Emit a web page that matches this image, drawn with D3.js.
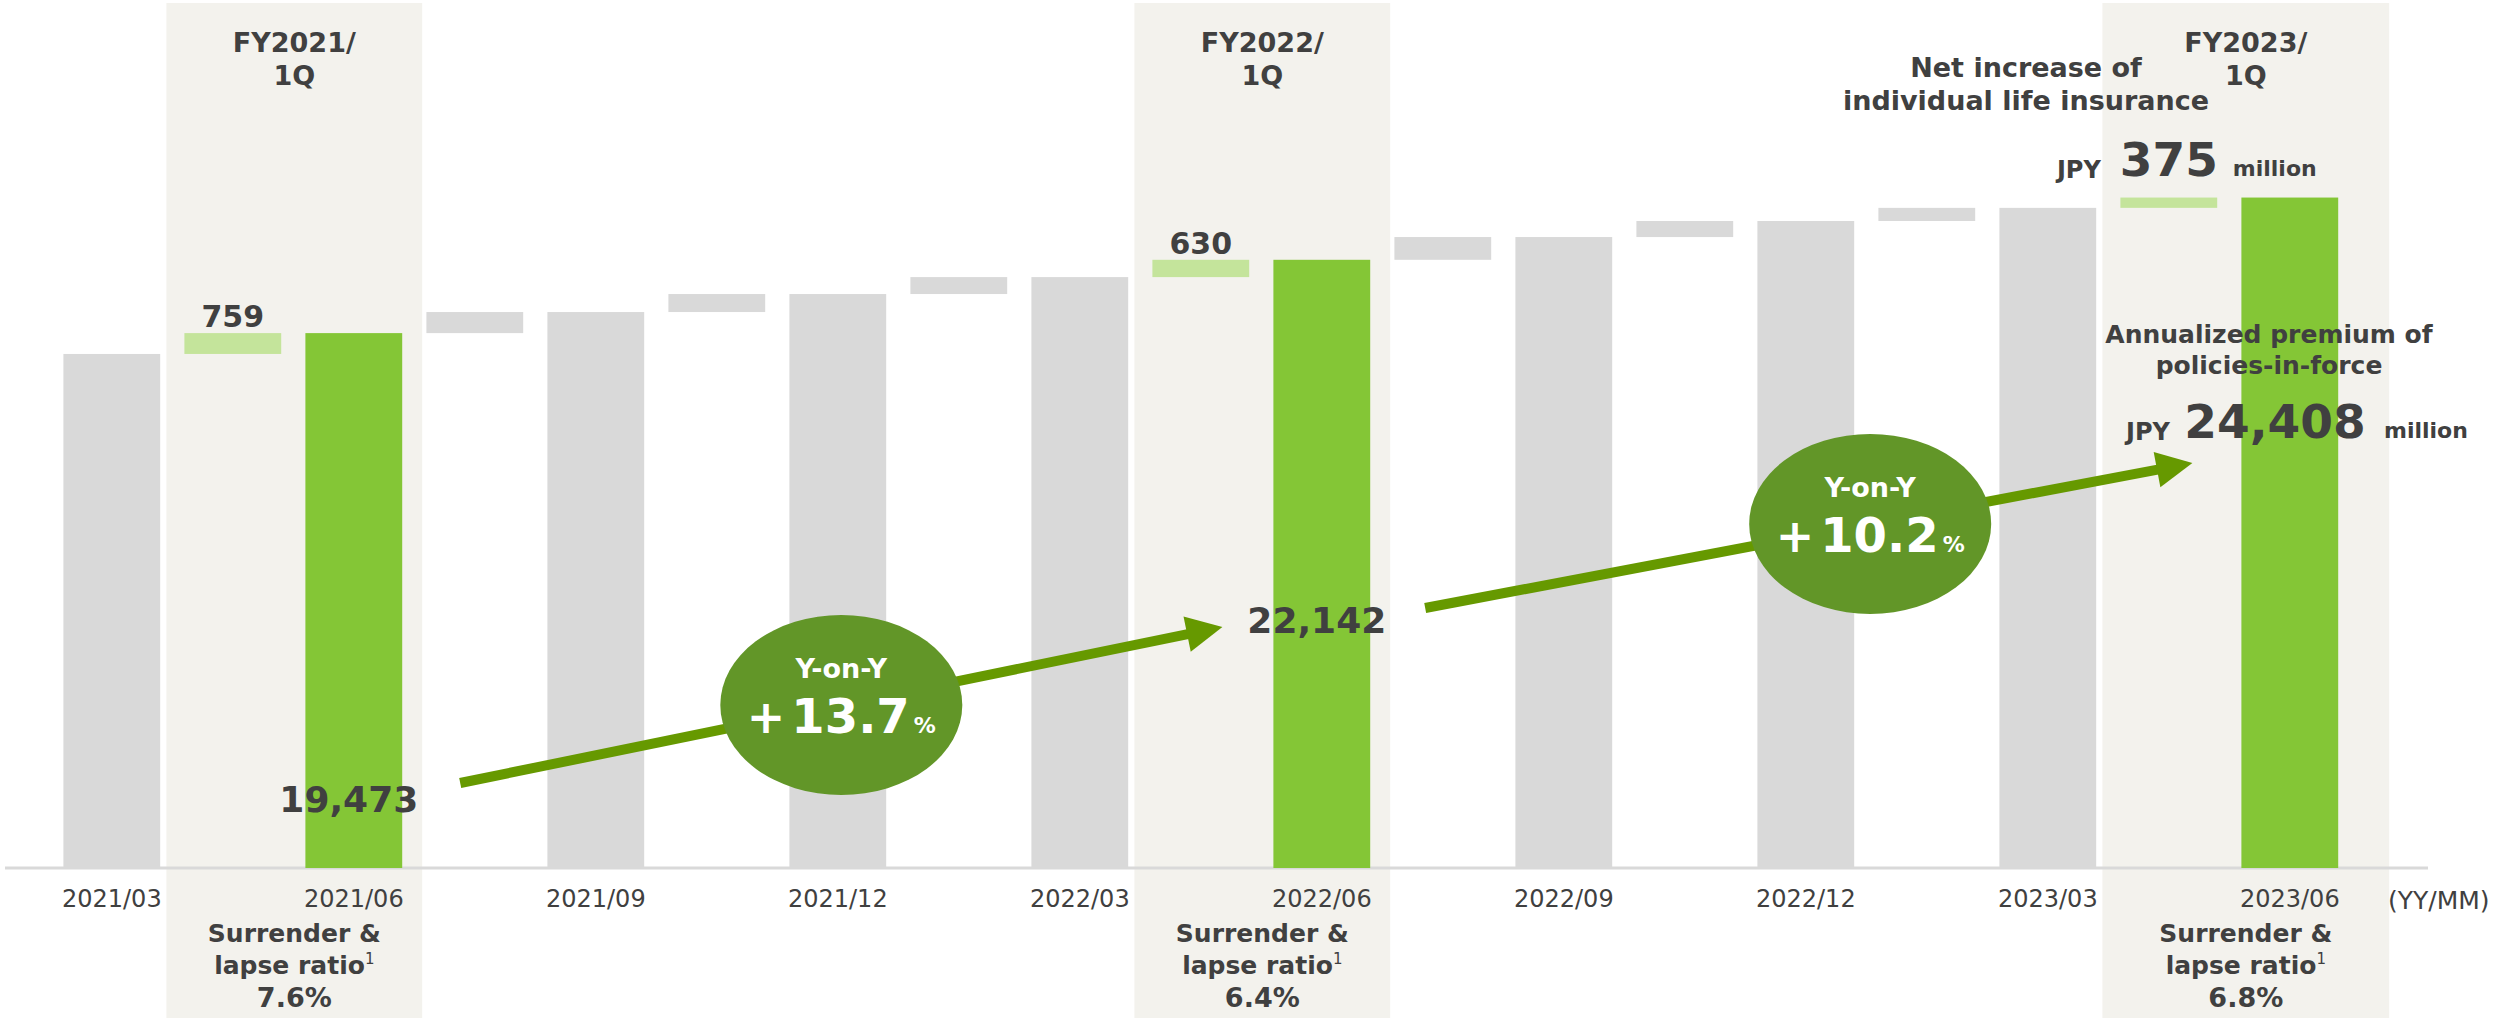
<!DOCTYPE html>
<html>
<head>
<meta charset="utf-8">
<script src="https://cdn.jsdelivr.net/npm/d3@7"></script>
<style>
  body { margin: 0; background: #fff; overflow: hidden; }
  text { font-family: 'DejaVu Sans', Verdana, sans-serif; }
</style>
</head>
<body>
<div class="canvas"></div>
<script>
// annualized premium of policies-in-force (JPY million), quarter ends
const quarters = ['2021/03', '2021/06', '2021/09', '2021/12', '2022/03',
                  '2022/06', '2022/09', '2022/12', '2023/03', '2023/06'];
const totals = [18714, 19473, 20240, 20895, 21512, 22142, 22970, 23555, 24033, 24408];

// first quarters of each fiscal year
const highlightQuarters = ['2021/06', '2022/06', '2023/06'];
const fyLabels = ['FY2021/', 'FY2022/', 'FY2023/'];
const lapseRatios = ['7.6%', '6.4%', '6.8%'];
const yoyLabels = ['13.7', '10.2'];

const dims = { width: 2497, height: 1023 };
const baseY = 868;
const ink = '#404040';

const svg = d3.select('.canvas')
    .append('svg')
    .attr('width', dims.width)
    .attr('height', dims.height);

// one slot per quarter total, one per increase in between
const slots = [];
quarters.forEach((q, i) => {
    if (i > 0) slots.push({ key: 'inc' + q, type: 'inc', quarter: q, from: totals[i - 1], to: totals[i] });
    slots.push({ key: q, type: 'total', quarter: q, from: 0, to: totals[i] });
});

const x = d3.scaleBand()
    .domain(slots.map(d => d.key))
    .range([51.3, 2350.3])
    .paddingInner(0.2)
    .paddingOuter(0.1);

const y = d3.scaleLinear()
    .domain([0, 31600])
    .range([baseY, 0]);

const bw = x.bandwidth();
const fmt = d3.format(',');

// shaded fiscal-first-quarter bands
const bands = highlightQuarters.map((q, i) => {
    const left = x('inc' + q) - 18;
    const right = x(q) + bw + (i === highlightQuarters.length - 1 ? 51 : 20);
    return { q, left, right, cx: (left + right) / 2, fy: fyLabels[i], ratio: lapseRatios[i] };
});

svg.selectAll('.band')
    .data(bands)
    .enter()
    .append('rect')
    .attr('class', 'band')
    .attr('x', d => d.left)
    .attr('y', 3)
    .attr('width', d => d.right - d.left)
    .attr('height', 1015)
    .attr('fill', '#f3f2ed');

// baseline
svg.append('line')
    .attr('x1', 5).attr('x2', 2428)
    .attr('y1', baseY).attr('y2', baseY)
    .attr('stroke', '#d9d9d9')
    .attr('stroke-width', 3);

// bars
const barColour = d => {
    const hi = highlightQuarters.includes(d.quarter);
    if (d.type === 'total') return hi ? '#84c636' : '#d9d9d9';
    return hi ? '#c4e49b' : '#d9d9d9';
};

svg.selectAll('.bar')
    .data(slots)
    .enter()
    .append('rect')
    .attr('class', 'bar')
    .attr('x', d => x(d.key))
    .attr('width', bw)
    .attr('y', d => y(d.to))
    .attr('height', d => y(d.from) - y(d.to))
    .attr('fill', barColour);

// x axis labels
const xAxis = d3.axisBottom(x)
    .tickValues(quarters)
    .tickSize(0)
    .tickPadding(22);

const axisG = svg.append('g')
    .attr('transform', `translate(0, ${baseY})`)
    .call(xAxis);
axisG.select('.domain').remove();
axisG.selectAll('text')
    .attr('font-family', "'DejaVu Sans', Verdana, sans-serif")
    .attr('font-size', 24)
    .attr('fill', ink);

svg.append('text')
    .attr('x', 2388).attr('y', 909)
    .attr('font-size', 25)
    .attr('fill', ink)
    .text('(YY/MM)');

// net increase labels over highlighted increments
svg.selectAll('.incLabel')
    .data(slots.filter(d => d.type === 'inc' && highlightQuarters.includes(d.quarter) && d.quarter !== '2023/06'))
    .enter()
    .append('text')
    .attr('class', 'incLabel')
    .attr('x', d => x(d.key) + bw / 2)
    .attr('y', d => y(d.to) - 6)
    .attr('text-anchor', 'middle')
    .attr('font-size', 30)
    .attr('font-weight', 'bold')
    .attr('fill', ink)
    .text(d => fmt(d.to - d.from));

// total labels for first two highlighted quarters
const totalLabelY = { '2021/06': 812, '2022/06': 633 };
svg.selectAll('.totLabel')
    .data(highlightQuarters.slice(0, 2))
    .enter()
    .append('text')
    .attr('class', 'totLabel')
    .attr('x', q => x(q) + bw / 2 - 5)
    .attr('y', q => totalLabelY[q])
    .attr('text-anchor', 'middle')
    .attr('font-size', 36)
    .attr('font-weight', 'bold')
    .attr('fill', ink)
    .text(q => fmt(totals[quarters.indexOf(q)]));

// band texts: top FY label, bottom lapse ratio
bands.forEach(b => {
    const top = svg.append('text')
        .attr('text-anchor', 'middle')
        .attr('font-size', 27)
        .attr('font-weight', 'bold')
        .attr('fill', ink);
    top.append('tspan').attr('x', b.cx).attr('y', 52).text(b.fy);
    top.append('tspan').attr('x', b.cx).attr('y', 85).text('1Q');

    svg.append('text')
        .attr('x', b.cx).attr('y', 942)
        .attr('text-anchor', 'middle')
        .attr('font-size', 25)
        .attr('font-weight', 'bold')
        .attr('fill', ink)
        .text('Surrender &');

    const lr = svg.append('text')
        .attr('x', b.cx).attr('y', 974)
        .attr('text-anchor', 'middle')
        .attr('font-size', 25)
        .attr('fill', ink);
    lr.append('tspan').attr('font-weight', 'bold').text('lapse ratio');
    lr.append('tspan').attr('font-size', 15).attr('dy', -10).text('1');

    svg.append('text')
        .attr('x', b.cx).attr('y', 1007)
        .attr('text-anchor', 'middle')
        .attr('font-size', 27)
        .attr('font-weight', 'bold')
        .attr('fill', ink)
        .text(b.ratio);
});

// growth arrows between first quarters
const arrows = [
    { x1: x('2021/06') + bw + 58, y1: 783, x2: x('2022/06') - 51, y2: 627, t: 0.5 },
    { x1: x('2022/06') + bw + 55, y1: 608, x2: x('2023/06') - 49, y2: 463, t: 0.58 }
];

arrows.forEach((a, i) => {
    const ang = Math.atan2(a.y2 - a.y1, a.x2 - a.x1);
    const head = 36, half = 18;
    const bx = a.x2 - head * Math.cos(ang);
    const by = a.y2 - head * Math.sin(ang);
    svg.append('line')
        .attr('x1', a.x1).attr('y1', a.y1)
        .attr('x2', bx + 2 * Math.cos(ang)).attr('y2', by + 2 * Math.sin(ang))
        .attr('stroke', '#669900')
        .attr('stroke-width', 10);
    const px = -Math.sin(ang), py = Math.cos(ang);
    svg.append('path')
        .attr('d', `M${a.x2},${a.y2} L${bx + px * half},${by + py * half} L${bx - px * half},${by - py * half} Z`)
        .attr('fill', '#669900');

    const cx = a.x1 + (a.x2 - a.x1) * a.t;
    const cy = a.y1 + (a.y2 - a.y1) * a.t;
    svg.append('ellipse')
        .attr('cx', cx).attr('cy', cy)
        .attr('rx', 121).attr('ry', 90)
        .attr('fill', '#629628');
    svg.append('text')
        .attr('x', cx).attr('y', cy - 27)
        .attr('text-anchor', 'middle')
        .attr('font-size', 27)
        .attr('font-weight', 'bold')
        .attr('fill', '#fff')
        .text('Y-on-Y');
    const pct = svg.append('text')
        .attr('x', cx).attr('y', cy + 28)
        .attr('text-anchor', 'middle')
        .attr('font-weight', 'bold')
        .attr('fill', '#fff');
    pct.append('tspan').attr('font-size', 46).text('+');
    pct.append('tspan').attr('font-size', 48).attr('dx', 6).text(yoyLabels[i]);
    pct.append('tspan').attr('font-size', 22).attr('dx', 4).text('%');
});

// latest quarter call-outs
const lastQ = quarters[quarters.length - 1];
const incCx = x('inc' + lastQ) + bw / 2;
const netInc = totals[totals.length - 1] - totals[totals.length - 2];

const netTitle = svg.append('text')
    .attr('text-anchor', 'middle')
    .attr('font-size', 27)
    .attr('font-weight', 'bold')
    .attr('fill', ink);
netTitle.append('tspan').attr('x', 2026).attr('y', 77).text('Net increase of');
netTitle.append('tspan').attr('x', 2026).attr('y', 110).text('individual life insurance');

const callout = (cx, yb, big, gapL, gapR) => {
    svg.append('text')
        .attr('x', cx - gapL).attr('y', yb + 2)
        .attr('text-anchor', 'end')
        .attr('font-size', 24).attr('font-weight', 'bold').attr('fill', ink)
        .text('JPY');
    svg.append('text')
        .attr('x', cx).attr('y', yb)
        .attr('text-anchor', 'middle')
        .attr('font-size', 47).attr('font-weight', 'bold').attr('fill', ink)
        .text(big);
    svg.append('text')
        .attr('x', cx + gapR).attr('y', yb)
        .attr('text-anchor', 'start')
        .attr('font-size', 22).attr('font-weight', 'bold').attr('fill', ink)
        .text('million');
};

callout(incCx, 176, fmt(netInc), 68, 64);

const apTitle = svg.append('text')
    .attr('text-anchor', 'middle')
    .attr('font-size', 25)
    .attr('font-weight', 'bold')
    .attr('fill', ink);
apTitle.append('tspan').attr('x', 2269).attr('y', 343).text('Annualized premium of');
apTitle.append('tspan').attr('x', 2269).attr('y', 374).text('policies-in-force');

callout(2275, 438, fmt(totals[totals.length - 1]), 105, 109);
</script>
</body>
</html>
